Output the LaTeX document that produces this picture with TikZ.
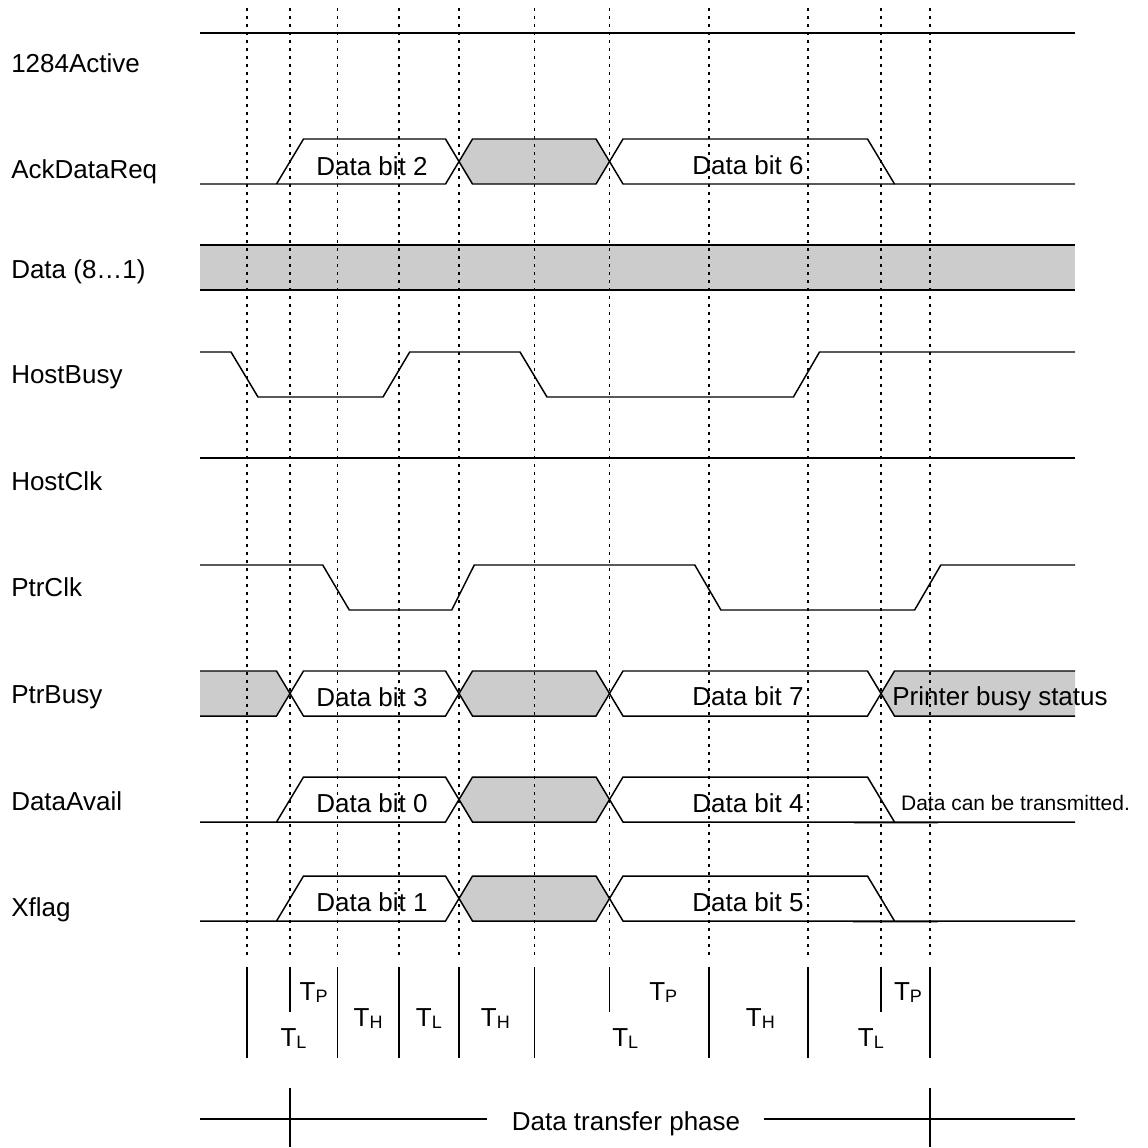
\documentclass[tikz,border=0pt]{standalone}
\usepackage{fontspec}
\setmainfont{Liberation Sans}
\definecolor{busgray}{RGB}{204,204,204}
\newcommand\Tsub[2]{#1\raisebox{-1.6pt}{\fontsize{13.5}{14}\selectfont #2}}
\begin{document}
\begin{tikzpicture}[x=0.75pt,y=-0.75pt,
  sig/.style={line width=1.1pt, line join=miter},
  guide/.style={line width=1.3pt, dash pattern=on 2.2pt off 3.8pt},
  bar/.style={line width=1.1pt},
  lbl/.style={anchor=base west, inner sep=0pt, font=\fontsize{19.5}{23}\selectfont},
  bit/.style={anchor=base, inner sep=0pt, font=\fontsize{19.5}{23}\selectfont},
  note/.style={anchor=base, inner sep=0pt, font=\fontsize{15.75}{18}\selectfont},
  tlab/.style={anchor=base west, inner sep=0pt, font=\fontsize{19.5}{23}\selectfont},
  artifact/.style={line width=1.8pt, black!35}]
\useasboundingbox (0,0) rectangle (1148,1147);

% ---------- signal names ----------
\node[lbl] (n1284) at (11,72.3) {1284Active};
\node[lbl] (nack)  at (11,178.3) {AckDataReq};
\node[lbl] (ndata) at (11,278.3) {Data (8…1)};
\node[lbl] (nhb)   at (11,383.3) {HostBusy};
\node[lbl] (nhc)   at (11,490) {HostClk};
\node[lbl] (npc)   at (11,596.7) {PtrClk};
\node[lbl] (npb)   at (11,703.3) {PtrBusy};
\node[lbl] (nda)   at (11,810) {DataAvail};
\node[lbl] (nxf)   at (11,916.7) {Xflag};

% ---------- 1284Active ----------
\draw[sig] (200,33) -- (1075,33);

% ---------- Data (8...1) ----------
\fill[busgray] (200,245) rectangle (1075,290);
\draw[sig] (200,245) -- (1075,245);
\draw[sig] (200,290) -- (1075,290);

% ---------- HostBusy ----------
\draw[sig] (200,352) -- (231,352) -- (258,397) -- (383,397) -- (409.7,352) -- (520,352)
  -- (547,397) -- (793.4,397) -- (819.5,352) -- (1075,352);

% ---------- HostClk ----------
\draw[sig] (200,458) -- (1075,458);

% ---------- PtrClk ----------
\draw[sig] (200,565) -- (322.7,565) -- (349.3,610) -- (451.7,610) -- (474.3,565) -- (694.8,565)
  -- (720.9,610) -- (914.6,610) -- (940.8,565) -- (1075,565);

% ---------- bus rows: AckDataReq, DataAvail, Xflag ----------
\draw[artifact] (854,822.8) -- (938,822.8);
\draw[artifact] (853,921.8) -- (938,921.8);
\foreach \h/\l in {139/184, 777/822, 876/921} {
  \pgfmathsetmacro\m{(\h+\l)/2}
  \fill[busgray] (459,\m) -- (472.5,\h) -- (596,\h) -- (609.5,\m) -- (596,\l) -- (472.5,\l) -- cycle;
  \draw[sig] (276.5,\l) -- (303.5,\h) -- (445.5,\h) -- (472.5,\l) -- (596,\l) -- (623,\h)
    -- (867.5,\h) -- (894.5,\l) -- (1075,\l);
  \draw[sig] (200,\l) -- (445.5,\l) -- (472.5,\h) -- (596,\h) -- (623,\l) -- (894.5,\l);
}

% ---------- PtrBusy ----------
\fill[busgray] (200,671) -- (276.5,671) -- (290,693.5) -- (276.5,716) -- (200,716) -- cycle;
\fill[busgray] (459,693.5) -- (472.5,671) -- (596,671) -- (609.5,693.5) -- (596,716) -- (472.5,716) -- cycle;
\fill[busgray] (881,693.5) -- (894.5,671) -- (1075,671) -- (1075,716) -- (894.5,716) -- cycle;
\draw[sig] (200,671) -- (276.5,671) -- (303.5,716) -- (445.5,716) -- (472.5,671) -- (596,671)
  -- (623,716) -- (867.5,716) -- (894.5,671) -- (1075,671);
\draw[sig] (200,716) -- (276.5,716) -- (303.5,671) -- (445.5,671) -- (472.5,716) -- (596,716)
  -- (623,671) -- (867.5,671) -- (894.5,716) -- (1075,716);

% ---------- texts inside waveforms ----------
\node[bit] (b2) at (372,175) {Data bit 2};
\node[bit] (b6) at (748,174.5) {Data bit 6};
\node[bit] (b3) at (372,706) {Data bit 3};
\node[bit] (b7) at (748,705) {Data bit 7};
\node[bit] (b0) at (372,812) {Data bit 0};
\node[bit] (b4) at (748,812) {Data bit 4};
\node[bit] (b1) at (372,911) {Data bit 1};
\node[bit] (b5) at (748,911) {Data bit 5};
\node[bit] (pbs) at (1000,705.3) {Printer busy status};
\node[note] (dct) at (1015.5,810.5) {Data can be transmitted.};

% ---------- dotted guides ----------
\foreach \x in {247,290,337.5,399,459,534.5,609.5,709,808,881,930}
  \draw[guide] (\x,8) -- (\x,958);

% ---------- timing bars ----------
\foreach \x in {247,337.5,399,459,534.5,709,808,930}
  \draw[bar] (\x,967) -- (\x,1058);
\foreach \x in {290,609.5,881}
  \draw[bar] (\x,967) -- (\x,1012);

\node[tlab] (tp1) at (299.4,1000) {\Tsub{T}{P}};
\node[tlab] (tl1) at (280.3,1046.7) {\Tsub{T}{L}};
\node[tlab] (th1) at (353.4,1026) {\Tsub{T}{H}};
\node[tlab] (tl2) at (415.7,1026) {\Tsub{T}{L}};
\node[tlab] (th2) at (480.6,1026) {\Tsub{T}{H}};
\node[tlab] (tp2) at (649,1000) {\Tsub{T}{P}};
\node[tlab] (tl3) at (612,1046.7) {\Tsub{T}{L}};
\node[tlab] (th3) at (745.7,1026) {\Tsub{T}{H}};
\node[tlab] (tp3) at (893.8,1000) {\Tsub{T}{P}};
\node[tlab] (tl4) at (857.6,1046.7) {\Tsub{T}{L}};

% ---------- data transfer phase ----------
\node[bit] (dtp) at (626,1130) {Data transfer phase};
\coordinate (pl) at (200,1119);
\coordinate (pr) at (1075,1119);
\draw[sig] (pl) -- (487,1119);
\draw[sig] (763.5,1119) -- (pr);
\draw[bar] (290,1088) -- (290,1147);
\draw[bar] (930,1088) -- (930,1147);
\end{tikzpicture}
\end{document}
